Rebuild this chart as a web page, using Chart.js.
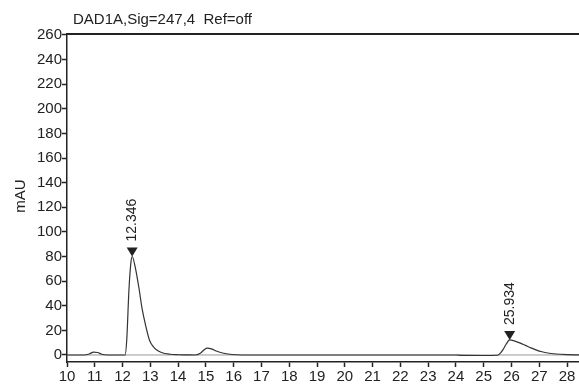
<!DOCTYPE html>
<html lang="en">
<head>
  <meta charset="UTF-8">
  <title>DAD1A chromatogram</title>
  <script src="https://cdn.jsdelivr.net/npm/chart.js"></script>
  <style>
    body {
      margin: 0;
      padding: 0;
      background: #fff;
    }
    #wrap {
      width: 579px;
      height: 387px;
    }
  </style>
</head>
<body>
  <div id="wrap">
    <canvas id="chroma" width="579" height="387"></canvas>
  </div>

  <script>
    // Signal trace (retention time in min, absorbance in mAU)
    const times = [10.0, 10.6, 10.8, 10.95, 11.1, 11.25, 11.45, 12.09, 12.15, 12.23, 12.3, 12.346,
      12.45, 12.6, 12.7, 12.81, 12.97, 13.1, 13.23, 13.4, 13.7, 14.0, 14.3, 14.6, 14.8, 14.95, 15.05,
      15.2, 15.4, 15.6, 15.8, 16.1, 16.5, 24.0, 24.2, 25.0, 25.5, 25.6, 25.7, 25.8, 25.934, 26.1, 26.3,
      26.5, 26.7, 26.9, 27.1, 27.3, 27.6, 28.0, 28.43];
    const signal = [0, 0, 0.8, 2.3, 2.0, 0.6, 0, 0, 12, 53, 75, 80,
      72, 53, 38, 26, 12, 7, 4, 2, 0.6, 0.2, 0.1, 0, 1.5, 4.5, 5.5,
      5, 3, 1.6, 0.8, 0.2, 0, 0, -0.3, -0.4, -0.2, 1.5, 4.5, 8.5, 12.2, 11.5, 9.8,
      7.8, 5.8, 4.0, 2.6, 1.6, 0.8, 0.3, 0.1];

    // Marked peaks
    const peakTimes = [12.346, 25.934];
    const peakHeights = [80, 12.2];
    const peakLabels = ['12.346', '25.934'];

    // Axis ticks
    const xTicks = [10, 11, 12, 13, 14, 15, 16, 17, 18, 19, 20, 21, 22, 23, 24, 25, 26, 27, 28];
    const yTicks = [0, 20, 40, 60, 80, 100, 120, 140, 160, 180, 200, 220, 240, 260];

    const FONT = "'Liberation Sans', Arial, sans-serif";

    const trace = times.map((t, i) => ({ x: t, y: signal[i] }));
    const baseline = [{ x: 10, y: 0 }, { x: 28.43, y: 0 }];

    // Title, y label, top frame line and peak markers
    const decorations = {
      id: 'decorations',
      afterDraw(chart) {
        const c = chart.ctx;
        const area = chart.chartArea;
        const xs = chart.scales.x;
        const ys = chart.scales.y;
        c.save();

        c.strokeStyle = '#222';
        c.lineWidth = 2;
        c.beginPath();
        c.moveTo(area.left, area.top);
        c.lineTo(area.right, area.top);
        c.stroke();

        c.fillStyle = '#222';
        c.font = '15px ' + FONT;
        c.textAlign = 'left';
        c.textBaseline = 'middle';
        c.fillText('DAD1A,Sig=247,4  Ref=off', 73, 20);

        c.save();
        c.translate(21, 196);
        c.rotate(-Math.PI / 2);
        c.textAlign = 'center';
        c.fillText('mAU', 0, 0);
        c.restore();

        c.font = '14px ' + FONT;
        peakTimes.forEach((t, i) => {
          const px = xs.getPixelForValue(t);
          const py = ys.getPixelForValue(peakHeights[i]);
          c.beginPath();
          c.moveTo(px, py);
          c.lineTo(px - 5.5, py - 9);
          c.lineTo(px + 5.5, py - 9);
          c.closePath();
          c.fill();

          c.save();
          c.translate(px, py - 15);
          c.rotate(-Math.PI / 2);
          c.textAlign = 'left';
          c.textBaseline = 'middle';
          c.fillText(peakLabels[i], 0, 0);
          c.restore();
        });
        c.restore();
      }
    };

    new Chart(document.getElementById('chroma'), {
      type: 'line',
      data: {
        datasets: [
          {
            data: trace,
            borderColor: '#333',
            borderWidth: 1.2,
            pointRadius: 0,
            cubicInterpolationMode: 'monotone',
            fill: false
          },
          {
            data: baseline,
            borderColor: '#999',
            borderWidth: 1,
            pointRadius: 0,
            fill: false
          }
        ]
      },
      options: {
        responsive: false,
        animation: false,
        layout: { padding: { top: 34, left: 0, right: 0, bottom: 0 } },
        plugins: {
          legend: { display: false },
          tooltip: { enabled: false }
        },
        scales: {
          x: {
            type: 'linear',
            min: 10,
            max: 28.43,
            afterBuildTicks: (s) => { s.ticks = xTicks.map(v => ({ value: v })); },
            afterFit: (s) => { s.height = 25; },
            grid: { drawOnChartArea: false, drawTicks: true, tickLength: 5, tickColor: '#222', tickWidth: 1.5 },
            border: { display: true, color: '#222', width: 1.5 },
            ticks: {
              autoSkip: false,
              maxRotation: 0,
              padding: 1,
              color: '#222',
              font: { family: FONT, size: 15 }
            }
          },
          y: {
            type: 'linear',
            min: -5.7,
            max: 260.8,
            afterBuildTicks: (s) => { s.ticks = yTicks.map(v => ({ value: v })); },
            afterFit: (s) => { s.width = 67; },
            grid: { drawOnChartArea: false, drawTicks: true, tickLength: 5, tickColor: '#222', tickWidth: 1.5 },
            border: { display: true, color: '#222', width: 1.5 },
            ticks: {
              padding: 0,
              color: '#222',
              font: { family: FONT, size: 15 }
            }
          }
        }
      },
      plugins: [decorations]
    });
  </script>
</body>
</html>
